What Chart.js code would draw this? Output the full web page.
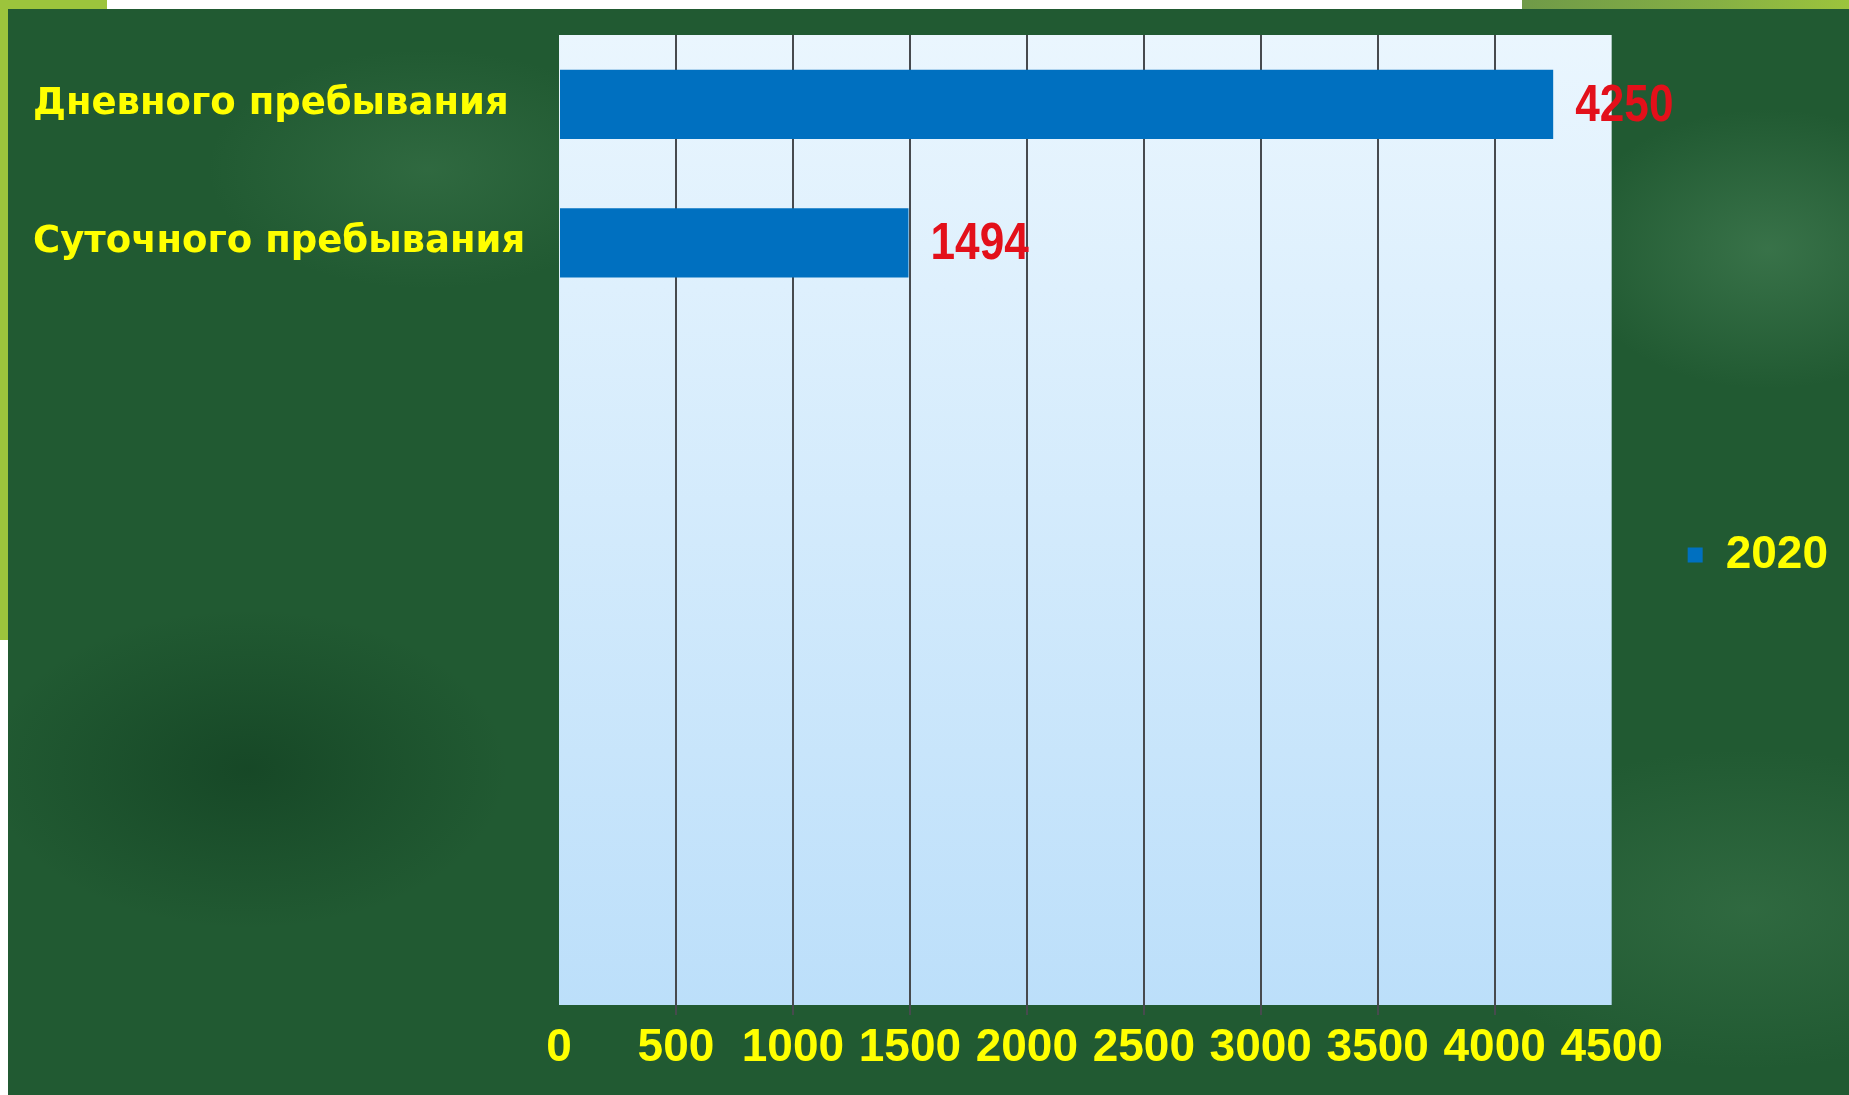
<!DOCTYPE html>
<html lang="ru">
<head>
<meta charset="utf-8">
<title>2020</title>
<script src="https://cdn.jsdelivr.net/npm/chart.js@4.4.0/dist/chart.umd.min.js"></script>
<style>
  html, body { margin: 0; padding: 0; }
  body { width: 1849px; height: 1095px; position: relative; overflow: hidden; background: #ffffff; }
  .slide-bg {
    position: absolute; left: 8px; top: 9px; right: 0; bottom: 0;
    background:
      radial-gradient(ellipse 260px 90px at 1170px 560px, rgba(110, 170, 125, 0.35), rgba(0, 0, 0, 0)),
      radial-gradient(ellipse 200px 140px at 1760px 240px, rgba(110, 170, 125, 0.30), rgba(0, 0, 0, 0)),
      radial-gradient(ellipse 220px 120px at 420px 160px, rgba(90, 150, 105, 0.25), rgba(0, 0, 0, 0)),
      radial-gradient(ellipse 260px 160px at 240px 760px, rgba(10, 50, 25, 0.45), rgba(0, 0, 0, 0)),
      radial-gradient(ellipse 300px 160px at 1740px 900px, rgba(90, 150, 105, 0.25), rgba(0, 0, 0, 0)),
      #215a32;
  }
  .lime-top-left { position: absolute; left: 0; top: 0; width: 107px; height: 9px; background: #9cc43c; }
  .lime-left { position: absolute; left: 0; top: 0; width: 8px; height: 640px; background: #9cc43c; }
  .lime-top-right { position: absolute; left: 1522px; top: 0; right: 0; height: 9px; background: linear-gradient(90deg, #6f9a48, #86b044 60%, #9cc43c); }
  #chart { position: absolute; left: 0; top: 0; }
</style>
</head>
<body>
<div class="slide-bg"></div>
<div class="lime-top-left"></div>
<div class="lime-left"></div>
<div class="lime-top-right"></div>
<canvas id="chart" width="1849" height="1095"></canvas>
<script>
// Chart data
const categories = ['Дневного пребывания', 'Суточного пребывания', '', '', '', '', ''];
const values2020 = [4250, 1494, null, null, null, null, null];
const seriesName = '2020';
const xMin = 0;
const xMax = 4500;
const xStep = 500;

const yellow = '#ffff00';

// Light blue gradient behind the plot area
const plotBackground = {
    id: 'plotBackground',
    beforeDraw(chart) {
        const { ctx, chartArea: a } = chart;
        const g = ctx.createLinearGradient(0, a.top, 0, a.bottom);
        g.addColorStop(0, '#eaf6fe');
        g.addColorStop(1, '#bcdffa');
        ctx.save();
        ctx.fillStyle = g;
        ctx.fillRect(a.left, a.top, a.right - a.left, a.bottom - a.top);
        ctx.restore();
    }
};

// Red value labels at the end of the bars
const valueLabels = {
    id: 'valueLabels',
    afterDatasetsDraw(chart) {
        const { ctx } = chart;
        const meta = chart.getDatasetMeta(0);
        ctx.save();
        ctx.fillStyle = '#e3101a';
        ctx.font = 'bold 52px "Liberation Sans", Arial, sans-serif';
        ctx.textBaseline = 'middle';
        ctx.textAlign = 'left';
        meta.data.forEach((bar, i) => {
            const v = values2020[i];
            if (v == null) return;
            ctx.save();
            ctx.translate(bar.x + 22, bar.y + 2);
            ctx.scale(0.85, 1);
            ctx.fillText(String(v), 0, 0);
            ctx.restore();
        });
        ctx.restore();
    }
};

const ctx = document.getElementById('chart').getContext('2d');
window.barChart = new Chart(ctx, {
    type: 'bar',
    data: {
        labels: categories,
        datasets: [{
            label: seriesName,
            data: values2020,
            backgroundColor: '#0070c0',
            borderWidth: 0,
            barPercentage: 0.5,
            categoryPercentage: 1
        }]
    },
    options: {
        indexAxis: 'y',
        responsive: false,
        animation: false,
        layout: { padding: { left: 33, top: 35, right: 11, bottom: 20 } },
        plugins: {
            tooltip: { enabled: false },
            legend: {
                position: 'right',
                labels: {
                    color: yellow,
                    font: { family: '"Liberation Sans", Arial, sans-serif', size: 46, weight: 'bold' },
                    boxWidth: 15,
                    boxHeight: 15,
                    padding: 76
                }
            }
        },
        scales: {
            x: {
                min: xMin,
                max: xMax,
                afterFit(scale) { scale.height = 70; },
                ticks: {
                    stepSize: xStep,
                    color: yellow,
                    padding: 6,
                    minRotation: 0,
                    maxRotation: 0,
                    autoSkip: false,
                    callback: (v) => String(v),
                    font: { family: '"Liberation Sans", Arial, sans-serif', size: 46, weight: 'bold' }
                },
                grid: {
                    color: (c) => (c.tick && (c.tick.value === xMin || c.tick.value === xMax)) ? 'rgba(0,0,0,0)' : '#474a4e',
                    lineWidth: 2,
                    tickLength: 10
                },
                border: { display: false }
            },
            y: {
                afterFit(scale) { scale.width = 526; },
                ticks: {
                    color: yellow,
                    crossAlign: 'far',
                    autoSkip: false,
                    font: { family: '"DejaVu Sans", sans-serif', size: 37, weight: 'bold' }
                },
                grid: { display: false },
                border: { display: false }
            }
        }
    },
    plugins: [plotBackground, valueLabels]
});
</script>
</body>
</html>
